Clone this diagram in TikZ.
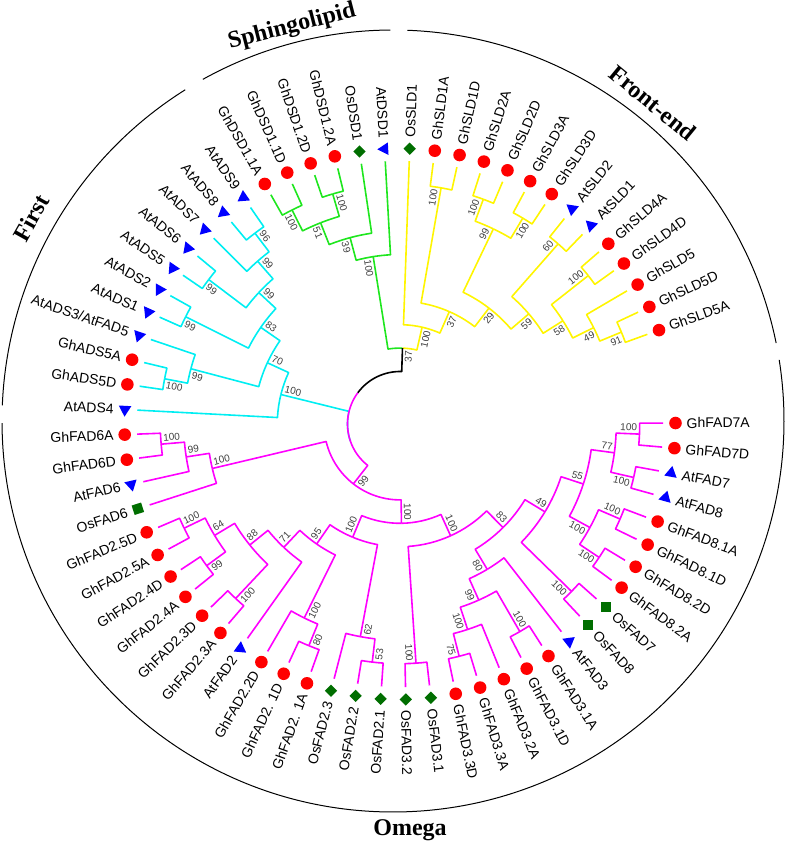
\documentclass[tikz,border=0pt]{standalone}
\usepackage{fontspec}
\newfontfamily\leaffont{Liberation Sans}
\newfontfamily\cladefont{Liberation Serif}
\usetikzlibrary{shapes.geometric}

\definecolor{omegacol}{RGB}{255,0,255}
\definecolor{firstcol}{RGB}{0,238,242}
\definecolor{sphcol}{RGB}{30,230,30}
\definecolor{frontcol}{RGB}{255,245,0}
\definecolor{ghred}{RGB}{255,0,0}
\definecolor{atblue}{RGB}{0,0,255}
\definecolor{osgreen}{RGB}{0,110,0}

% store a tree node: name, angle, radius, style of the branch leading to it
\newcommand{\setnode}[4]{%
  \coordinate (#1) at (#2:#3);
  \expandafter\xdef\csname ang@#1\endcsname{#2}%
  \expandafter\xdef\csname col@#1\endcsname{#4}}

% support value beside the branch of a child: child, value, side (0 = lower angle, 1 = upper)
\newcommand{\bslabel}[3]{%
  \if\relax\detokenize{#2}\relax\else
    \edef\bsang{\csname ang@#1\endcsname}%
    \pgfmathtruncatemacro\bsright{cos(\bsang)>0}%
    \ifnum\bsright=1
      \let\bsrot\bsang
      \ifnum#3=1 \def\bsanc{south east}\else\def\bsanc{north east}\fi
    \else
      \pgfmathsetmacro\bsrot{\bsang-180}%
      \ifnum#3=1 \def\bsanc{north west}\else\def\bsanc{south west}\fi
    \fi
    \node[support, rotate=\bsrot, anchor=\bsanc] (bs#1) at (#1) {#2};
  \fi}

% join two children: name, child 1, child 2, height, support 1, support 2, own style
\newcommand{\mkclade}[7]{%
  \edef\angA{\csname ang@#2\endcsname}\edef\angB{\csname ang@#3\endcsname}%
  \edef\styA{\csname col@#2\endcsname}\edef\styB{\csname col@#3\endcsname}%
  \pgfmathsetmacro\cla{(\angA+\angB)/2}%
  \pgfmathsetmacro\clr{263.1-23.4*#4}%
  \setnode{#1}{\cla}{\clr}{#7}%
  \expandafter\draw\expandafter[\styA] (#1) arc[start angle=\cla, end angle=\angA, radius=\clr pt] -- (#2);
  \expandafter\draw\expandafter[\styB] (#1) arc[start angle=\cla, end angle=\angB, radius=\clr pt] -- (#3);
  \bslabel{#2}{#5}{0}%
  \bslabel{#3}{#6}{1}}

\begin{document}
\begin{tikzpicture}[x=1pt, y=1pt,
    branch/.style={line width=1.6pt, line join=round},
    omegabr/.style={branch, draw=omegacol},
    firstbr/.style={branch, draw=firstcol},
    sphbr/.style={branch, draw=sphcol},
    frontbr/.style={branch, draw=frontcol},
    rootbr/.style={branch, draw=black},
    ghdot/.style={circle, fill=ghred, minimum size=12.6pt, inner sep=0pt},
    attri/.style={regular polygon, regular polygon sides=3, fill=atblue, minimum size=14.5pt, inner sep=0pt},
    osdia/.style={diamond, fill=osgreen, minimum width=12.5pt, minimum height=12.5pt, inner sep=0pt},
    ossq/.style={rectangle, fill=osgreen, minimum size=10.5pt, inner sep=0pt},
    ostilt/.style={regular polygon, regular polygon sides=4, fill=osgreen, minimum size=14pt, inner sep=0pt},
    leaflabel/.style={font=\leaffont\fontsize{14}{16}\selectfont, inner sep=1pt, text height=10pt, text depth=0pt},
    support/.style={font=\leaffont\fontsize{10}{12}\selectfont, text=black!75, inner sep=2.5pt},
    ring/.style={line width=1pt},
    cladename/.style={font=\cladefont\bfseries\fontsize{24}{28}\selectfont}
    ]
    \useasboundingbox (-400,-424) rectangle (387,424);

    % leaves
    \foreach \k/\lab/\mk in {0/GhFAD7A/ghdot, 1/GhFAD7D/ghdot, 2/AtFAD7/attri, 3/AtFAD8/attri,
        4/GhFAD8.1A/ghdot, 5/GhFAD8.1D/ghdot, 6/GhFAD8.2D/ghdot, 7/GhFAD8.2A/ghdot,
        8/OsFAD7/ossq, 9/OsFAD8/ossq, 10/AtFAD3/attri, 11/GhFAD3.1A/ghdot, 12/GhFAD3.1D/ghdot,
        13/GhFAD3.2A/ghdot, 14/GhFAD3.3A/ghdot, 15/GhFAD3.3D/ghdot, 16/OsFAD3.1/osdia,
        17/OsFAD3.2/osdia, 18/OsFAD2.1/osdia, 19/OsFAD2.2/osdia, 20/OsFAD2.3/osdia,
        21/GhFAD2. 1A/ghdot, 22/GhFAD2. 1D/ghdot, 23/GhFAD2.2D/ghdot, 24/AtFAD2/attri,
        25/GhFAD2.3A/ghdot, 26/GhFAD2.3D/ghdot, 27/GhFAD2.4A/ghdot, 28/GhFAD2.4D/ghdot,
        29/GhFAD2.5A/ghdot, 30/GhFAD2.5D/ghdot, 31/OsFAD6/ostilt, 32/AtFAD6/attri,
        33/GhFAD6D/ghdot, 34/GhFAD6A/ghdot, 35/AtADS4/attri, 36/GhADS5D/ghdot, 37/GhADS5A/ghdot,
        38/{AtADS3/AtFAD5}/attri, 39/AtADS1/attri, 40/AtADS2/attri, 41/AtADS5/attri,
        42/AtADS6/attri, 43/AtADS7/attri, 44/AtADS8/attri, 45/AtADS9/attri,
        46/GhDSD1.1A/ghdot, 47/GhDSD1.1D/ghdot, 48/GhDSD1.2D/ghdot, 49/GhDSD1.2A/ghdot,
        50/OsDSD1/osdia, 51/AtDSD1/attri, 52/OsSLD1/osdia, 53/GhSLD1A/ghdot, 54/GhSLD1D/ghdot,
        55/GhSLD2A/ghdot, 56/GhSLD2D/ghdot, 57/GhSLD3A/ghdot, 58/GhSLD3D/ghdot,
        59/AtSLD2/attri, 60/AtSLD1/attri, 61/GhSLD4A/ghdot, 62/GhSLD4D/ghdot,
        63/GhSLD5/ghdot, 64/GhSLD5D/ghdot, 65/GhSLD5A/ghdot} {
        \pgfmathsetmacro\ang{360.2-5.235*\k}
        \ifnum\k<35 \def\brst{omegabr}\else\ifnum\k<46 \def\brst{firstbr}\else
            \ifnum\k<52 \def\brst{sphbr}\else\def\brst{frontbr}\fi\fi\fi
        \setnode{l\k}{\ang}{263.1}{\brst}
        \pgfmathtruncatemacro\isright{cos(\ang)>0}
        \ifnum\isright=1 \let\rot\ang \def\anc{west}\else \pgfmathsetmacro\rot{\ang-180}\def\anc{east}\fi
        \node[\mk, shape border rotate=\ang] (m\k) at (\ang:275.5) {};
        \node[leaflabel, rotate=\rot, anchor=\anc] (t\k) at (\ang:285.5) {\lab};
    }

    % Omega
    \mkclade{g7}{l1}{l0}{1}{}{}{omegabr}
    \mkclade{a78}{l3}{l2}{1}{}{}{omegabr}
    \mkclade{n77}{a78}{g7}{2}{100}{100}{omegabr}
    \mkclade{g81}{l5}{l4}{1}{}{}{omegabr}
    \mkclade{g82}{l7}{l6}{1}{}{}{omegabr}
    \mkclade{g8}{g82}{g81}{2}{100}{100}{omegabr}
    \mkclade{n55}{g8}{n77}{3}{100}{77}{omegabr}
    \mkclade{os78}{l9}{l8}{1}{}{}{omegabr}
    \mkclade{n49}{os78}{n55}{4}{100}{55}{omegabr}
    \mkclade{g31}{l12}{l11}{1}{}{}{omegabr}
    \mkclade{g33}{l15}{l14}{1}{}{}{omegabr}
    \mkclade{g32}{g33}{l13}{2}{75}{}{omegabr}
    \mkclade{n99c}{g32}{g31}{3}{100}{100}{omegabr}
    \mkclade{n80c}{n99c}{l10}{4}{99}{}{omegabr}
    \mkclade{n83}{n80c}{n49}{5}{80}{49}{omegabr}
    \mkclade{os3}{l17}{l16}{1}{}{}{omegabr}
    \mkclade{fad37}{os3}{n83}{6}{100}{83}{omegabr}
    \mkclade{os21}{l19}{l18}{1}{}{}{omegabr}
    \mkclade{os2}{l20}{os21}{2}{}{53}{omegabr}
    \mkclade{g21}{l22}{l21}{1}{}{}{omegabr}
    \mkclade{g22}{l23}{g21}{2}{}{80}{omegabr}
    \mkclade{g23}{l26}{l25}{1}{}{}{omegabr}
    \mkclade{g24}{l28}{l27}{1}{}{}{omegabr}
    \mkclade{g25}{l30}{l29}{1}{}{}{omegabr}
    \mkclade{n64}{g25}{g24}{2}{100}{99}{omegabr}
    \mkclade{n88}{n64}{g23}{3}{64}{100}{omegabr}
    \mkclade{n71}{n88}{l24}{4}{88}{}{omegabr}
    \mkclade{n95}{n71}{g22}{5}{71}{100}{omegabr}
    \mkclade{fad2}{n95}{os2}{6}{95}{62}{omegabr}
    \mkclade{n100}{fad2}{fad37}{7}{100}{100}{omegabr}
    \mkclade{g6}{l34}{l33}{1}{}{}{omegabr}
    \mkclade{n99f}{g6}{l32}{2}{100}{}{omegabr}
    \mkclade{fad6}{n99f}{l31}{3}{99}{}{omegabr}
    \mkclade{omega}{fad6}{n100}{8}{100}{100}{omegabr}

    % First
    \mkclade{g5}{l37}{l36}{1}{}{}{firstbr}
    \mkclade{n99a}{l38}{g5}{2}{}{100}{firstbr}
    \mkclade{a12}{l40}{l39}{1}{}{}{firstbr}
    \mkclade{a56}{l42}{l41}{1}{}{}{firstbr}
    \mkclade{a89}{l45}{l44}{1}{}{}{firstbr}
    \mkclade{a789}{a89}{l43}{2}{96}{}{firstbr}
    \mkclade{a59}{a789}{a56}{3}{99}{99}{firstbr}
    \mkclade{n83a}{a59}{a12}{4}{99}{99}{firstbr}
    \mkclade{n70}{n83a}{n99a}{5}{83}{99}{firstbr}
    \mkclade{first}{n70}{l35}{6}{70}{}{firstbr}

    % Sphingolipid
    \mkclade{d11}{l47}{l46}{1}{}{}{sphbr}
    \mkclade{d12}{l49}{l48}{1}{}{}{sphbr}
    \mkclade{n51}{d12}{d11}{2}{100}{100}{sphbr}
    \mkclade{n39}{l50}{n51}{3}{}{51}{sphbr}
    \mkclade{sph}{l51}{n39}{4}{}{39}{sphbr}

    % Front-end
    \mkclade{s1}{l54}{l53}{1}{}{}{frontbr}
    \mkclade{s2}{l56}{l55}{1}{}{}{frontbr}
    \mkclade{s3}{l58}{l57}{1}{}{}{frontbr}
    \mkclade{n99y}{s3}{s2}{2}{100}{100}{frontbr}
    \mkclade{s60}{l60}{l59}{1}{}{}{frontbr}
    \mkclade{s4}{l62}{l61}{1}{}{}{frontbr}
    \mkclade{s91}{l65}{l64}{1}{}{}{frontbr}
    \mkclade{n49y}{s91}{l63}{2}{91}{}{frontbr}
    \mkclade{n58}{n49y}{s4}{3}{49}{100}{frontbr}
    \mkclade{n59}{n58}{s60}{4}{58}{60}{frontbr}
    \mkclade{n29}{n59}{n99y}{5}{59}{99}{frontbr}
    \mkclade{n37y}{n29}{s1}{6}{29}{100}{frontbr}
    \mkclade{front}{n37y}{l52}{7}{37}{}{frontbr}

    % root
    \mkclade{sphfront}{front}{sph}{8}{100}{100}{rootbr}
    \mkclade{firstomega}{first}{omega}{9}{100}{99}{omegabr}
    \mkclade{root}{sphfront}{firstomega}{9}{37}{}{rootbr}

    % outer ring and family names
    \begin{scope}[shift={(-7,3)}]
        \draw[ring] (11.5:391) arc[start angle=11.5, end angle=87.9, radius=391pt];
        \draw[ring] (90.4:391) arc[start angle=90.4, end angle=119.1, radius=391pt];
        \draw[ring] (122.1:391) arc[start angle=122.1, end angle=177.7, radius=391pt];
        \draw[ring] (180.3:391) arc[start angle=180.3, end angle=369, radius=391pt];
    \end{scope}
    \node[cladename, rotate=14.4] (sphname) at (-108,397) {Sphingolipid};
    \node[cladename, rotate=-39.3] (frontname) at (253,321) {Front-end};
    \node[cladename, rotate=60.7] (firstname) at (-369,206) {First};
    \node[cladename] (omeganame) at (10,-406) {Omega};
\end{tikzpicture}
\end{document}
